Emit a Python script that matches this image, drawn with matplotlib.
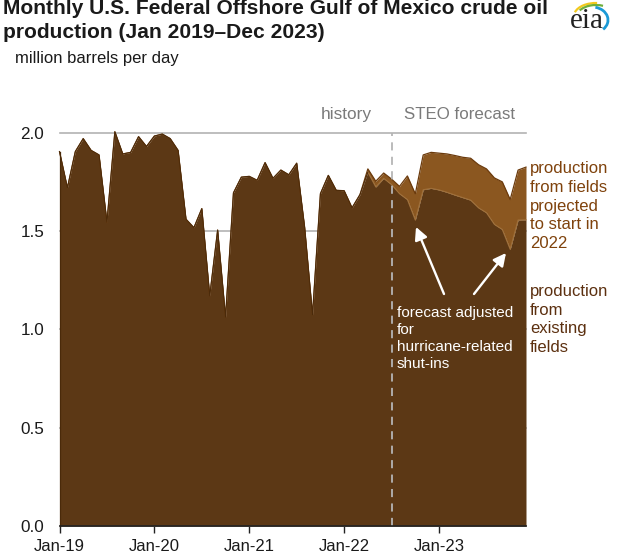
import matplotlib
matplotlib.use("Agg")
import matplotlib.pyplot as plt
from matplotlib.patches import Arc
import numpy as np

plt.rcParams['font.family'] = ['Liberation Sans', 'DejaVu Sans']

W, H = 626, 553

# existing fields, Jan-19 to Dec-23
existing = [1.904, 1.72, 1.904, 1.97, 1.91, 1.887, 1.545, 2.005, 1.892, 1.90, 1.98, 1.93,
            1.983, 1.993, 1.97, 1.91, 1.56, 1.517, 1.614, 1.17, 1.505, 1.062, 1.694, 1.774,
            1.778, 1.758, 1.848, 1.768, 1.81, 1.786, 1.845, 1.52, 1.074, 1.69, 1.783, 1.707,
            1.705, 1.618, 1.685, 1.80, 1.724, 1.768, 1.736, 1.69, 1.66, 1.556, 1.71, 1.717,
            1.709, 1.697, 1.683, 1.67, 1.657, 1.618, 1.593, 1.534, 1.508, 1.407, 1.556, 1.557]
# total including fields starting in 2022 (only differs from Apr-22 on)
total = existing[:39] + [1.816, 1.753, 1.795, 1.764, 1.727, 1.78, 1.689, 1.887, 1.90,
                         1.896, 1.892, 1.884, 1.875, 1.87, 1.837, 1.816, 1.77, 1.75, 1.66, 1.81, 1.825]
tick_pos = [0, 12, 24, 36, 48]
tick_labels = ['Jan-19', 'Jan-20', 'Jan-21', 'Jan-22', 'Jan-23']
y_ticks = [0.0, 0.5, 1.0, 1.5, 2.0]

DARK = '#5c3815'
LIGHT = '#8b5720'
GRID = '#b3b3b3'

def px(x, y):
    # picture pixels (y down) to figure fraction
    return x / W, 1 - y / H

months = np.arange(len(existing))

fig = plt.figure(figsize=(W / 100, H / 100), dpi=100)
left, right, top, bottom = 59.5, 526, 132.7, 526
ax = fig.add_axes([left / W, 1 - bottom / H, (right - left) / W, (bottom - top) / H])
ax.set_xlim(0, 59)
ax.set_ylim(0, 2.0)
for s in ['top', 'right', 'left']:
    ax.spines[s].set_visible(False)
ax.spines['bottom'].set_color('#222222')
ax.spines['bottom'].set_linewidth(1.2)
ax.spines['bottom'].set_zorder(6)

ax.set_yticks(y_ticks)
ax.set_yticklabels([f'{v:.1f}' for v in y_ticks], fontsize=12.3, color='#1a1a1a')
ax.tick_params(axis='y', length=0, pad=11)
ax.set_xticks(tick_pos)
ax.set_xticklabels(tick_labels, fontsize=12, color='#1a1a1a')
ax.tick_params(axis='x', length=5, width=1, color='#222222', pad=4.5, direction='out')
ax.yaxis.grid(True, color=GRID, linewidth=1.2, zorder=0)
ax.set_axisbelow(True)
for line in ax.get_ygridlines():
    line.set_clip_on(False)

ax.fill_between(months, existing, total, color=LIGHT, linewidth=0, zorder=2)
ax.fill_between(months, 0, existing, color=DARK, linewidth=0, zorder=3)
ax.plot(months, total, color='#6b3a0c', linewidth=0.9, zorder=4, clip_on=False)
ax.plot(months[39:], existing[39:], color='#a0703a', linewidth=0.8, zorder=4, clip_on=False)
ax.plot(months[:40], existing[:40], color='#4a2a0a', linewidth=0.7, zorder=4, clip_on=False)
ax.plot([0, 0], [0, existing[0]], color='#4a2a0a', linewidth=0.9, zorder=4, clip_on=False)

# forecast divider
ax.axvline(42, color='#b5b5b5', linestyle=(0, (4.5, 3.5)), linewidth=1.3, zorder=5)

# arrows
for tail, tip in [((444, 294), (416, 227)), ((474, 294), (506, 253))]:
    ax.annotate('', xy=px(*tip), xytext=px(*tail), xycoords='figure fraction',
                textcoords='figure fraction', zorder=7,
                arrowprops=dict(arrowstyle='-|>,head_length=0.75,head_width=0.38', color='white',
                                linewidth=1.7, shrinkA=0, shrinkB=0))

# title block
fig.text(*px(3, 9), 'Monthly U.S. Federal Offshore Gulf of Mexico crude oil', fontsize=15.1,
         fontweight='bold', color='#1a1a1a', va='center', ha='left')
fig.text(*px(3, 33), 'production (Jan 2019–Dec 2023)', fontsize=15.1,
         fontweight='bold', color='#1a1a1a', va='center', ha='left')
fig.text(*px(15, 58), 'million barrels per day', fontsize=12, color='#1a1a1a', va='center', ha='left')

fig.text(*px(346, 114), 'history', fontsize=12.4, color='#7a7a7a', va='center', ha='center')
fig.text(*px(459.5, 114), 'STEO forecast', fontsize=12.2, color='#7a7a7a', va='center', ha='center')

fig.text(*px(530, 206), 'production\nfrom fields\nprojected\nto start in\n2022', fontsize=12,
         color='#7f420c', va='center', ha='left', linespacing=1.3)
fig.text(*px(530, 319.5), 'production\nfrom\nexisting\nfields', fontsize=12,
         color='#5c3010', va='center', ha='left', linespacing=1.3)
fig.text(*px(397, 338.5), 'forecast adjusted\nfor\nhurricane-related\nshut-ins', fontsize=11,
         color='white', va='center', ha='left', linespacing=1.25, zorder=8)

# eia logo
fig.text(*px(570, 21), 'eia', fontsize=21, family=['Liberation Serif'], color='#222222',
         va='center', ha='left')
logo = fig.add_axes([0, 0, 1, 1], facecolor='none')
logo.set_xlim(0, W)
logo.set_ylim(H, 0)
logo.axis('off')
logo.add_patch(Arc((596, 16), 44, 26, theta1=190, theta2=275, color='#f2c91e', linewidth=1.6))
logo.add_patch(Arc((596, 18), 40, 26, theta1=205, theta2=300, color='#6fae3a', linewidth=1.6))
logo.add_patch(Arc((592, 20), 32, 26, theta1=285, theta2=400, color='#1c9ad6', linewidth=2.0))

fig.savefig('out.png', dpi=100)
